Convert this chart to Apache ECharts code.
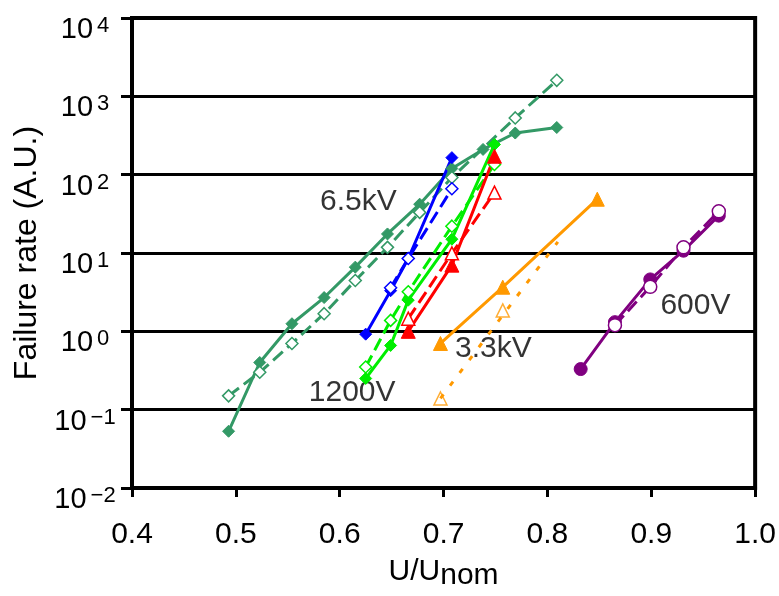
<!DOCTYPE html>
<html>
<head>
<meta charset="utf-8">
<script src="https://cdn.jsdelivr.net/npm/echarts@6/dist/echarts.min.js"></script>
<style>
html,body{margin:0;padding:0;background:#fff;}
#c{width:779px;height:596px;}
</style>
</head>
<body>
<div id="c"></div>
<script>
// ---- data ----
const xTicks = [0.4, 0.5, 0.6, 0.7, 0.8, 0.9, 1.0];
const yExponents = [-2, -1, 0, 1, 2, 3, 4];

// 6.5kV (dark green)
const hv65X = [0.493, 0.523, 0.554, 0.585, 0.615, 0.646, 0.677, 0.708, 0.738, 0.769, 0.809];
const hv65FilledY = [0.053, 0.40, 1.25, 2.7, 6.6, 17.5, 42, 120, 210, 340, 400];
const hv65OpenX = [0.493, 0.523, 0.554, 0.585, 0.615, 0.646, 0.677, 0.708, 0.769, 0.809];
const hv65OpenY = [0.15, 0.30, 0.70, 1.68, 4.45, 11.8, 33, 92, 530, 1600];

// blue
const blueFilledX = [0.625, 0.649, 0.666, 0.708];
const blueFilledY = [0.92, 3.3, 8.5, 165];
const blueOpenX = [0.649, 0.666, 0.708];
const blueOpenY = [3.6, 8.5, 66];

// red
const redFilledX = [0.666, 0.708, 0.749];
const redFilledY = [1.0, 7.0, 172];
const redOpenX = [0.666, 0.708, 0.749];
const redOpenY = [1.45, 9.9, 59];

// 1200V (bright green)
const v1200X = [0.625, 0.649, 0.666, 0.708, 0.749];
const v1200FilledY = [0.25, 0.66, 2.5, 15, 243];
const v1200OpenY = [0.35, 1.38, 3.2, 22, 135];

// 3.3kV (orange)
const v33FilledX = [0.697, 0.757, 0.848];
const v33FilledY = [0.70, 3.66, 48.6];
const v33OpenX = [0.697, 0.757];
const v33OpenY = [0.139, 1.85];
const v33FitX = [0.697, 0.81];
const v33FitY = [0.139, 13.9];

// 600V (purple)
const v600FilledX = [0.832, 0.865, 0.899, 0.931, 0.965];
const v600FilledY = [0.33, 1.31, 4.6, 10.7, 30];
const v600OpenX = [0.865, 0.899, 0.931, 0.965];
const v600OpenY = [1.2, 3.7, 11.8, 34];

// annotations
const annText = ['6.5kV', '1200V', '3.3kV', '600V'];
const annX = [0.618, 0.612, 0.748, 0.9425];
const annY = [45.7, 0.165, 0.605, 2.13];

// ---- build ----
const FONT = 'Liberation Sans, Arial, sans-serif';
function pairs(xs, ys){ return xs.map((x,i)=>[x, ys[i]]); }
function line(xs, ys, color, symbol, filled, dash, size){
  return {
    type:'line', data: pairs(xs, ys), symbol: symbol || 'none', symbolSize: size || 10,
    showSymbol: !!symbol, animation:false, silent:true,
    lineStyle:{color:color, width:3, type: dash || 'solid'},
    itemStyle: filled ? {color:color, borderColor:color, borderWidth:1}
                      : {color:'#ffffff', borderColor:color, borderWidth:1.5}
  };
}
const cGreen = '#339966', cBlue = '#0000ff', cRed = '#ff0000', cLime = '#00ee00', cOrange = '#ff9900', cPurple = '#800080';
const dash = [13, 6];
const series = [
  line(hv65X, hv65FilledY, cGreen, 'diamond', true, 'solid', 12),
  line(hv65OpenX, hv65OpenY, cGreen, 'diamond', false, dash, 12),
  line(blueFilledX, blueFilledY, cBlue, 'diamond', true, 'solid', 12),
  line(blueOpenX, blueOpenY, cBlue, 'diamond', false, dash, 12),
  line(v1200X, v1200FilledY, cLime, 'diamond', true, 'solid', 12),
  line(v1200X, v1200OpenY, cLime, 'diamond', false, dash, 12),
  line(redFilledX, redFilledY, cRed, 'triangle', true, 'solid', 14),
  line(redOpenX, redOpenY, cRed, 'triangle', false, dash, 13),
  line(v33FilledX, v33FilledY, cOrange, 'triangle', true, 'solid', 14),
  line(v33FitX, v33FitY, cOrange, null, false, [5, 11]),
  {type:'scatter', data: pairs(v33OpenX, v33OpenY), symbol:'triangle', symbolSize:13, animation:false, silent:true,
   itemStyle:{color:'#fff', borderColor:cOrange, borderWidth:1.5}},
  line(v600FilledX, v600FilledY, cPurple, 'circle', true, 'solid', 13),
  line(v600OpenX, v600OpenY, cPurple, 'circle', false, dash, 13),
  {type:'scatter', data: annX.map((x,i)=>[x, annY[i], annText[i]]), symbolSize:0, animation:false, silent:true,
   label:{show:true, position:'inside', formatter: p => p.data[2], fontSize:30, color:'#000', fontFamily:FONT}}
];

const chart = echarts.init(document.getElementById('c'), null, {renderer:'canvas'});
chart.setOption({
  animation:false,
  backgroundColor:'#fff',
  grid:{left:132, right:22, top:18, bottom:105, show:true, borderColor:'#000', borderWidth:4, backgroundColor:'transparent'},
  xAxis:{
    type:'value', min:xTicks[0], max:xTicks[xTicks.length-1], interval:0.1,
    name:'{a|U/U}{n|nom}', nameLocation:'middle', nameGap:69,
    nameTextStyle:{rich:{a:{fontSize:30, verticalAlign:'top', fontFamily:FONT, color:'#000'},
                         n:{fontSize:30, verticalAlign:'top', padding:[4,0,0,0], fontFamily:FONT, color:'#000'}}},
    axisLine:{show:true, lineStyle:{color:'#000', width:4}},
    axisTick:{show:true, inside:false, length:9, lineStyle:{color:'#000', width:3}},
    axisLabel:{fontSize:30, lineHeight:30, color:'#000', fontFamily:FONT, margin:32,
      formatter: v => { const t = xTicks.find(t => Math.abs(t - v) < 1e-6); return t === undefined ? '' : t.toFixed(1); }},
    splitLine:{show:false}
  },
  yAxis:{
    type:'log', logBase:10, min:Math.pow(10, yExponents[0]), max:Math.pow(10, yExponents[yExponents.length-1]),
    name:'Failure rate (A.U.)', nameLocation:'middle', nameGap:89, nameRotate:90,
    nameTextStyle:{fontSize:32, lineHeight:32, color:'#000', fontFamily:FONT},
    axisLine:{show:true, lineStyle:{color:'#000', width:4}},
    axisTick:{show:true, inside:false, length:11, lineStyle:{color:'#000', width:3}},
    axisLabel:{align:'center', margin:47, padding:[24,0,0,0],
      formatter: v => { const e = Math.round(Math.log10(v)); if (yExponents.indexOf(e) < 0) return '';
        return '{b|10}{s|' + (e < 0 ? '\u2212' + (-e) : String(e)) + '}'; },
      rich:{b:{fontSize:29, lineHeight:30, fontFamily:FONT, color:'#000'},
            s:{fontSize:22, lineHeight:12, verticalAlign:'top', fontFamily:FONT, color:'#000', padding:[0,0,0,4]}}},
    splitLine:{show:true, lineStyle:{color:'#000', width:3}}
  },
  series: series
});
</script>
</body>
</html>
